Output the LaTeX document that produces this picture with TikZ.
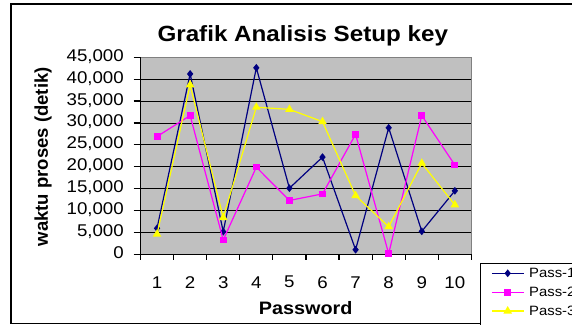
\documentclass[tikz,border=0pt]{standalone}
\usepackage{fontspec}
\setmainfont{Liberation Sans}[FakeStretch=1.1]
\newfontfamily\ylabfont{Liberation Sans}
\usepackage{xcolor}
\usetikzlibrary{shapes.geometric}

\definecolor{plotgray}{RGB}{192,192,192}
\definecolor{bordergray}{RGB}{128,128,128}
\definecolor{passnavy}{RGB}{0,0,128}
\definecolor{passpink}{RGB}{255,0,255}
\definecolor{passyellow}{RGB}{255,255,0}

\newcommand{\pxsize}[1]{\fontsize{#1}{#1}\selectfont}
\newcommand{\passA}{5.94,41.2,5.17,42.6,15.1,22.2,1.05,28.9,5.25,14.5}
\newcommand{\passB}{26.9,31.7,3.27,19.9,12.3,13.8,27.4,0.14,31.7,20.4}
\newcommand{\passC}{4.6,38.7,8.4,33.6,33.1,30.3,13.4,6.3,20.8,11.3}

\begin{document}
\begin{tikzpicture}[x=1pt, y=-1pt,
  gridline/.style={black, line width=0.9pt},
  axisline/.style={black, line width=1.2pt},
  ticklbl/.style={font=\pxsize{17}, inner sep=0pt},
  legendlbl/.style={font=\pxsize{13.5}, inner sep=0pt},
  serie/.style={line width=1.2pt},
  mdiamond/.style={diamond, fill=passnavy, inner sep=0pt,
                   minimum width=6.5pt, minimum height=8pt},
  msquare/.style={rectangle, fill=passpink, inner sep=0pt,
                  minimum width=7pt, minimum height=6.5pt},
  mtriangle/.style={regular polygon, regular polygon sides=3,
                    fill=passyellow, inner sep=0pt, minimum size=10pt},
]
  \useasboundingbox (0,0) rectangle (572,324);
  \fill[white] (0,0) rectangle (572,324);
  %% chart frame
  \draw[line width=1.4pt] (11,4) rectangle (600,323.3);
  \node[font=\bfseries\pxsize{22}, anchor=base] (title) at (302.8,41.7)
    {Grafik Analisis Setup key};

  %% plot area and grid
  \filldraw[fill=plotgray, draw=bordergray, line width=1pt]
    (140.5,57.3) rectangle (471.4,254.3);
  \foreach \k in {1,...,8}
    \draw[gridline] (140.5,{254.3-\k*21.89}) -- (471.4,{254.3-\k*21.89});

  %% value axis
  \draw[axisline] (140.5,57.3) -- (140.5,254.3);
  \foreach \k/\t in {0/0,1/{5,000},2/{10,000},3/{15,000},4/{20,000},
                     5/{25,000},6/{30,000},7/{35,000},8/{40,000},9/{45,000}} {
    \draw[axisline] (133.5,{254.3-\k*21.89}) -- (140.5,{254.3-\k*21.89});
    \node[ticklbl, anchor=base east] (yl\k) at (124,{258.3-\k*21.89}) {\t};
  }
  \node[font=\ylabfont\bfseries\pxsize{18.5}, rotate=90] (ylab) at (43,156.7)
    {waktu proses (detik)};

  %% category axis
  \draw[axisline] (140.5,254.3) -- (471.4,254.3);
  \foreach \j in {0,...,10}
    \draw[axisline] ({140.5+\j*33.09},254.3) -- ({140.5+\j*33.09},259.5);
  \foreach \j in {1,...,10}
    \node[ticklbl] (xl\j) at ({140.5+(\j-0.5)*33.09},282.2) {\j};
  \node[font=\bfseries\pxsize{18}, anchor=base] (xlab) at (305.7,314) {Password};

  %% data points
  \foreach \v [count=\i] in \passA
    \coordinate (a\i) at ({140.5+(\i-0.5)*33.09},{254.3-\v*4.378});
  \foreach \v [count=\i] in \passB
    \coordinate (b\i) at ({140.5+(\i-0.5)*33.09},{254.3-\v*4.378});
  \foreach \v [count=\i] in \passC
    \coordinate (c\i) at ({140.5+(\i-0.5)*33.09},{254.3-\v*4.378});

  %% series
  \draw[serie, passnavy] (a1) \foreach \i in {2,...,10} { -- (a\i) };
  \foreach \i in {1,...,10} \node[mdiamond] (ma\i) at (a\i) {};
  \draw[serie, passpink] (b1) \foreach \i in {2,...,10} { -- (b\i) };
  \foreach \i in {1,...,10} \node[msquare] (mb\i) at (b\i) {};
  \draw[serie, passyellow] (c1) \foreach \i in {2,...,10} { -- (c\i) };
  \foreach \i in {1,...,10} \node[mtriangle] (mc\i) at (c\i) {};

  %% legend
  \draw[fill=white, line width=1pt] (480.8,263.3) rectangle (600,330);
  \foreach \r/\y/\col/\mk in {1/273.3/passnavy/mdiamond,
                              2/292.3/passpink/msquare,
                              3/311/passyellow/mtriangle} {
    \coordinate (lg\r a) at (491.8,\y);
    \coordinate (lg\r b) at (523.5,\y);
    \draw[serie, \col] (lg\r a) -- (lg\r b);
    \node[\mk] (lm\r) at (507.7,\y) {};
    \node[legendlbl, anchor=west] (lt\r) at (529,\y) {Pass-\r};
  }
\end{tikzpicture}
\end{document}
